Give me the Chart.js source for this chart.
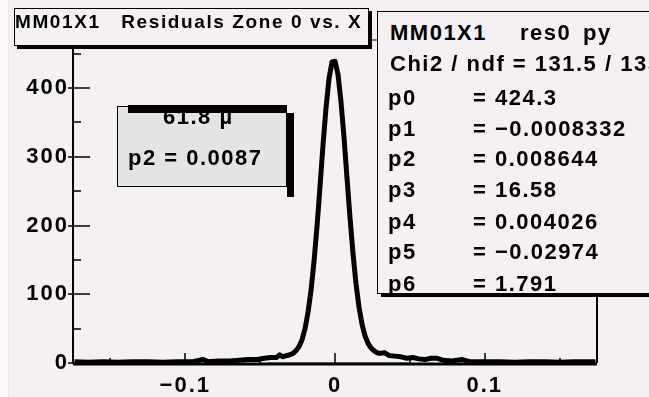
<!DOCTYPE html>
<html>
<head>
<meta charset="utf-8">
<script src="https://cdn.jsdelivr.net/npm/chart.js@4"></script>
<style>
  body { margin: 0; background: #f4f0f4; }
  #wrap { position: relative; width: 649px; height: 397px; overflow: hidden; background: #f4f0f4; }
  #strip { position: absolute; left: 0; top: 0; width: 8px; height: 397px; background: #faf8fa; border-right: 1px solid #ece8ec; }
  canvas { position: absolute; left: 0; top: 0; }
  .box { position: absolute; box-sizing: border-box; border: 1px solid #000; background: #f4f0f4; }
  .bar { position: absolute; background: #000; }
  .txt { position: absolute; font-family: 'Liberation Sans', Arial, sans-serif; font-weight: bold;
         color: #000; white-space: pre; line-height: 1; }
</style>
</head>
<body>
<div id="wrap">
  <div id="strip"></div>
  <canvas id="chart" width="649" height="397"></canvas>

  <div class="box" id="titleBox" style="left:14px;top:8px;width:355px;height:38px;box-shadow:3px 3px 0 #000;"></div>
  <div class="txt" style="left:15px;top:12px;font-size:19px;letter-spacing:1.6px;">MM01X1   Residuals Zone 0 vs. X</div>

  <div class="box" id="statsBox" style="left:377px;top:11px;width:330px;height:283px;"></div>
  <div class="bar" style="left:381px;top:294px;width:300px;height:3px;"></div>

  <div class="box" style="left:117px;top:106px;width:170px;height:81px;background:#e4e4e4;"></div>
  <div class="txt" style="left:163px;top:106px;font-size:22px;letter-spacing:1.5px;">61.8 µ</div>
  <div class="txt" style="left:128px;top:147px;font-size:22px;letter-spacing:1.5px;">p2 = 0.0087</div>
  <div class="bar" style="left:128px;top:105px;width:159px;height:8px;"></div>
  <div class="bar" style="left:287px;top:113px;width:7px;height:84px;"></div>
</div>

<script>
// --- Data ---
const binX = [
  -0.174, -0.165, -0.155, -0.145, -0.135, -0.125, -0.115, -0.105, -0.095, -0.088,
  -0.085, -0.078, -0.070, -0.064, -0.058, -0.052, -0.047, -0.043, -0.039, -0.037,
  -0.035, -0.032, -0.030, -0.028, -0.026, -0.024, -0.022, -0.020, -0.018, -0.016,
  -0.014, -0.012, -0.010, -0.008, -0.006, -0.004, -0.002, 0.000, 0.002, 0.004,
  0.006, 0.008, 0.010, 0.012, 0.014, 0.016, 0.018, 0.020, 0.022, 0.024,
  0.026, 0.028, 0.030, 0.033, 0.036, 0.040, 0.044, 0.048, 0.052, 0.056,
  0.060, 0.064, 0.068, 0.072, 0.078, 0.085, 0.090, 0.100, 0.110, 0.120,
  0.130, 0.140, 0.150, 0.160, 0.174
];
const binCounts = [
  2, 1, 2, 1, 2, 2, 1, 2, 2, 5,
  2, 3, 3, 4, 5, 5, 7, 8, 8, 12,
  9, 11, 12, 14, 18, 24, 34, 50, 74, 106,
  148, 199, 257, 317, 371, 414, 438, 439, 420, 380,
  329, 270, 212, 160, 116, 82, 57, 40, 29, 22,
  18, 15, 14, 15, 11, 10, 9, 7, 8, 6,
  5, 7, 7, 4, 3, 5, 2, 2, 2, 1,
  2, 2, 1, 2, 2
];
const fitRangeX = [-0.045, 0.05];

const xTicks = [-0.1, 0, 0.1];
const xMinorTicks = [-0.15, -0.05, 0.05, 0.15];
const yTicks = [0, 100, 200, 300, 400];
const yMinorTicks = [50, 150, 250, 350, 450];

const statsHeader = ['MM01X1', 'res0', 'py'];
const statsChi2 = 'Chi2 / ndf = 131.5 / 135';
const paramNames = ['p0', 'p1', 'p2', 'p3', 'p4', 'p5', 'p6'];
const paramValues = ['424.3', '\u22120.0008332', '0.008644', '16.58', '0.004026', '\u22120.02974', '1.791'];

// --- Stats box text ---
function addText(parent, text, left, baseline) {
  const d = document.createElement('div');
  d.className = 'txt';
  d.textContent = text;
  d.style.left = left + 'px';
  d.style.top = (baseline - 18.6) + 'px';
  d.style.fontSize = '22px';
  d.style.letterSpacing = '1.5px';
  parent.appendChild(d);
}

function renderStats() {
  const wrap = document.getElementById('wrap');
  addText(wrap, statsHeader[0], 390, 41);
  addText(wrap, statsHeader[1], 520, 41);
  addText(wrap, statsHeader[2], 583, 41);
  addText(wrap, statsChi2, 390, 72);
  const rows = [106, 137, 167, 198, 230, 260, 292];
  paramNames.forEach((p, i) => {
    addText(wrap, p, 388, rows[i]);
    addText(wrap, '= ' + paramValues[i], 473, rows[i]);
  });
}

// --- Chart ---
const FONT = { family: "'Liberation Sans', Arial, sans-serif", size: 22, weight: 'bold' };

const spacing = {
  id: 'spacing',
  beforeDraw(chart) { chart.ctx.letterSpacing = '2px'; }
};

const frameTicks = {
  id: 'frameTicks',
  afterDraw(chart) {
    const { ctx, chartArea: a, scales: { x, y } } = chart;
    ctx.save();
    ctx.strokeStyle = '#000';
    const line = (x1, y1, x2, y2, w) => {
      ctx.lineWidth = w;
      ctx.beginPath(); ctx.moveTo(x1, y1); ctx.lineTo(x2, y2); ctx.stroke();
    };
    line(a.right, a.top, a.right, a.bottom, 2);
    line(a.left, a.top, a.right, a.top, 1);
    line(a.left, a.top, a.left, a.bottom + 1, 2);
    line(a.left, a.bottom + 1, a.right, a.bottom + 1, 3);
    yTicks.forEach(v => { const py = Math.round(y.getPixelForValue(v)); line(a.left - 5, py, a.left + 17, py, 1.5); });
    yMinorTicks.forEach(v => { const py = Math.round(y.getPixelForValue(v)); line(a.left, py, a.left + 8, py, 1.5); });
    xTicks.forEach(v => { const px = Math.round(x.getPixelForValue(v)); line(px, a.bottom, px, a.bottom - 10, 1.5); });
    xMinorTicks.forEach(v => { const px = Math.round(x.getPixelForValue(v)); line(px, a.bottom, px, a.bottom - 5, 1.5); });
    ctx.restore();
  }
};

function fmtTick(v) {
  if (v === 0) return '0';
  return (v < 0 ? '\u2212' : '') + String(Math.abs(Math.round(v * 1000) / 1000));
}

function renderChart() {
  const ctx = document.getElementById('chart').getContext('2d');
  new Chart(ctx, {
    type: 'line',
    data: {
      datasets: [
        {
          data: binX.map((x, i) => ({ x, y: binCounts[i] })),
          borderColor: '#000',
          borderWidth: 5,
          pointRadius: 0,
          tension: 0,
          borderJoinStyle: 'round',
          order: 1
        },
        {
          data: fitRangeX.map(x => ({ x, y: 0 })),
          borderColor: '#a8a8a8',
          borderWidth: 2,
          pointRadius: 0,
          order: 0
        }
      ]
    },
    options: {
      responsive: false,
      animation: false,
      layout: { padding: { top: 40, right: 52, left: 0, bottom: 0 } },
      plugins: { legend: { display: false }, tooltip: { enabled: false } },
      scales: {
        x: {
          type: 'linear', min: -0.175, max: 0.175,
          grid: { display: false, drawTicks: false },
          border: { display: false },
          afterBuildTicks: s => { s.ticks = xTicks.map(v => ({ value: v })); },
          afterFit: s => { s.height = 34; },
          ticks: { color: '#000', font: FONT, padding: 10, maxRotation: 0, autoSkip: false, callback: fmtTick }
        },
        y: {
          type: 'linear', min: 0, max: 470,
          grid: { display: false, drawTicks: false },
          border: { display: false },
          afterBuildTicks: s => { s.ticks = yTicks.map(v => ({ value: v })); },
          afterFit: s => { s.width = 73; },
          ticks: { color: '#000', font: FONT, padding: 4, autoSkip: false, callback: v => String(v) }
        }
      }
    },
    plugins: [spacing, frameTicks]
  });
}

renderStats();
renderChart();
</script>
</body>
</html>
